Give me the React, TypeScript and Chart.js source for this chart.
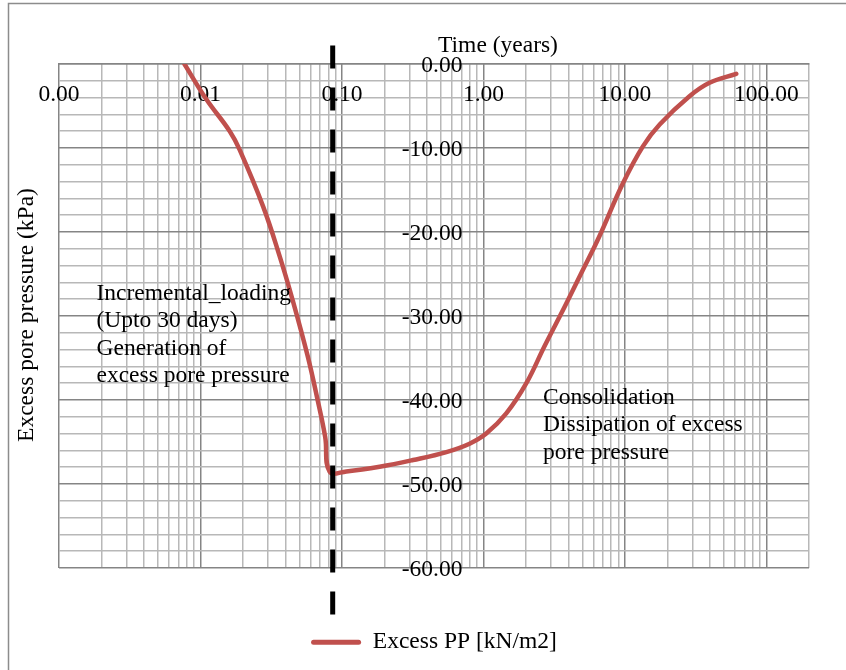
import React, { useEffect, useRef } from "react";
import { Chart, registerables } from "chart.js";

Chart.register(...registerables);

// Excess pore pressure history (time in years, pressure in kPa)
const timeYears = [
  0.0077, 0.011, 0.0161, 0.0189, 0.0277, 0.0363, 0.0448, 0.0572, 0.0673, 0.0761,
  0.0819, 0.1074, 0.1845, 0.318, 0.547, 0.798, 1.047, 1.45, 2.01, 2.7,
  3.75, 4.95, 6.44, 9.68, 13.4, 17.6, 28.6, 39.6, 61.2,
];
const excessPP = [
  0, -4.2, -8.0, -10.2, -16.95, -22.9, -28.1, -34.75, -40.0, -44.4,
  -48.55, -48.5, -47.95, -47.15, -46.2, -45.2, -44.0, -41.6, -38.0, -33.6,
  -28.9, -24.8, -20.9, -14.2, -9.8, -7.2, -3.84, -2.24, -1.17,
];

// End of incremental loading (~30 days), drawn as a dashed marker
const loadingEndTime = [0.086, 0.086];
const loadingEndLevel = [2.2, -65.6];

const seriesName = "Excess PP [kN/m2]";
const xTitle = "Time (years)";
const yTitle = "Excess pore pressure (kPa)";
const loadingNote = ["Incremental_loading", "(Upto 30 days)", "Generation of", "excess pore pressure"];
const consolidationNote = ["Consolidation", "Dissipation of excess", "pore pressure"];

const xMin = 0.001;
const xMax = 200;
const yMin = -60;
const yMax = 0;
const yStep = 2;
const yMajorStep = 10;
// the pressure axis crosses the time axis at 1 year; its labels sit just left of it
const yLabelAnchor = 0.711;

const FONT = "'Liberation Serif', 'Times New Roman', serif";
const FONT_SIZE = 23.5;
const MAJOR_GRID = "#858585";
const MINOR_GRID = "#b8b8b8";
const RED = "#c0504d";

const isDecade = (v: number) => {
  const l = Math.log10(v);
  return Math.abs(l - Math.round(l)) < 1e-9;
};

// 1..9 x 10^n ticks for the log axis
const logTicks = (() => {
  const out: number[] = [];
  for (let e = Math.log10(xMin); e <= Math.ceil(Math.log10(xMax)); e++) {
    for (let m = 1; m <= 9; m++) {
      const v = parseFloat((m * Math.pow(10, e)).toPrecision(6));
      if (v >= xMin - 1e-12 && v <= xMax + 1e-9) out.push(v);
    }
  }
  return out;
})();

const textPlugin = {
  id: "chartText",
  afterDraw(chart: Chart) {
    const ctx = chart.ctx;
    ctx.save();
    // outer frame
    ctx.strokeStyle = "#8c8c8c";
    ctx.lineWidth = 1.5;
    ctx.beginPath();
    ctx.moveTo(8.5, 700);
    ctx.lineTo(8.5, 3.5);
    ctx.lineTo(900, 3.5);
    ctx.stroke();

    ctx.fillStyle = "#000";
    ctx.font = `${FONT_SIZE}px ${FONT}`;
    ctx.textBaseline = "alphabetic";

    ctx.textAlign = "center";
    ctx.fillText(xTitle, 498, 51.5);

    ctx.textAlign = "left";
    loadingNote.forEach((line, i) => ctx.fillText(line, 96.5, 299.5 + i * 27.5));
    consolidationNote.forEach((line, i) => ctx.fillText(line, 543, 403.5 + i * 27.5));

    ctx.save();
    ctx.translate(33, 315);
    ctx.rotate(-Math.PI / 2);
    ctx.textAlign = "center";
    ctx.fillText(yTitle, 0, 0);
    ctx.restore();

    ctx.restore();
  },
};

export default function App() {
  const canvasRef = useRef<HTMLCanvasElement | null>(null);

  useEffect(() => {
    if (!canvasRef.current) return;
    const chart = new Chart(canvasRef.current, {
      type: "line",
      data: {
        datasets: [
          {
            label: "loading end",
            data: loadingEndTime.map((x, i) => ({ x, y: loadingEndLevel[i] })),
            borderColor: "#000",
            borderWidth: 5,
            borderDash: [23, 19],
            pointRadius: 0,
            clip: false as any,
            order: 0,
          },
          {
            label: seriesName,
            data: timeYears.map((x, i) => ({ x, y: excessPP[i] })),
            borderColor: RED,
            backgroundColor: RED,
            borderWidth: 4.5,
            borderCapStyle: "round",
            borderJoinStyle: "round",
            tension: 0.4,
            pointRadius: 0,
            order: 1,
          },
        ],
      },
      options: {
        animation: false,
        responsive: false,
        layout: { padding: { left: 59, right: 37, top: 64, bottom: 6 } },
        font: { family: FONT, size: FONT_SIZE },
        scales: {
          x: {
            type: "logarithmic",
            min: xMin,
            max: xMax,
            position: { y: 0 } as any,
            afterBuildTicks: (scale: any) => {
              scale.ticks = logTicks.map((value) => ({ value, major: isDecade(value) }));
            },
            grid: {
              drawTicks: false,
              lineWidth: 1.5,
              color: (c: any) => (c.tick && isDecade(c.tick.value) ? MAJOR_GRID : MINOR_GRID),
            },
            border: { display: true, color: MAJOR_GRID, width: 1.5 },
            ticks: {
              autoSkip: false,
              maxRotation: 0,
              padding: 17,
              color: "#000",
              font: { family: FONT, size: FONT_SIZE },
              callback: (v: any) => (isDecade(Number(v)) && Number(v) <= 100 ? Number(v).toFixed(2) : ""),
            },
          },
          y: {
            type: "linear",
            min: yMin,
            max: yMax,
            position: { x: yLabelAnchor } as any,
            grid: {
              drawTicks: false,
              lineWidth: 1.5,
              color: (c: any) => (c.tick && c.tick.value % yMajorStep === 0 ? MAJOR_GRID : MINOR_GRID),
            },
            border: { display: false },
            ticks: {
              stepSize: yStep,
              autoSkip: false,
              padding: 0,
              labelOffset: 2,
              color: "#000",
              font: { family: FONT, size: FONT_SIZE },
              callback: (v: any) => (Number(v) % yMajorStep === 0 ? Number(v).toFixed(2) : ""),
            },
          },
        },
        plugins: {
          tooltip: { enabled: false },
          legend: {
            position: "bottom",
            title: { display: true, text: "", font: { size: 10 }, padding: { top: 0, bottom: 40.5 } },
            labels: {
              boxWidth: 50,
              boxHeight: 5,
              padding: 10,
              color: "#000",
              font: { family: FONT, size: FONT_SIZE },
              generateLabels: (ch: Chart) =>
                Chart.defaults.plugins.legend.labels
                  .generateLabels(ch)
                  .filter((item: any) => item.datasetIndex === 1)
                  .map((item: any) => ({ ...item, lineWidth: 0, fillStyle: RED, borderRadius: 2.5 })),
              useBorderRadius: true,
            },
          },
        },
      },
      plugins: [textPlugin],
    } as any);
    return () => chart.destroy();
  }, []);

  return (
    <div style={{ position: "absolute", left: 0, top: 0, width: 846, height: 670, background: "#fff" }}>
      <canvas ref={canvasRef} width={846} height={670} style={{ display: "block" }} />
    </div>
  );
}
